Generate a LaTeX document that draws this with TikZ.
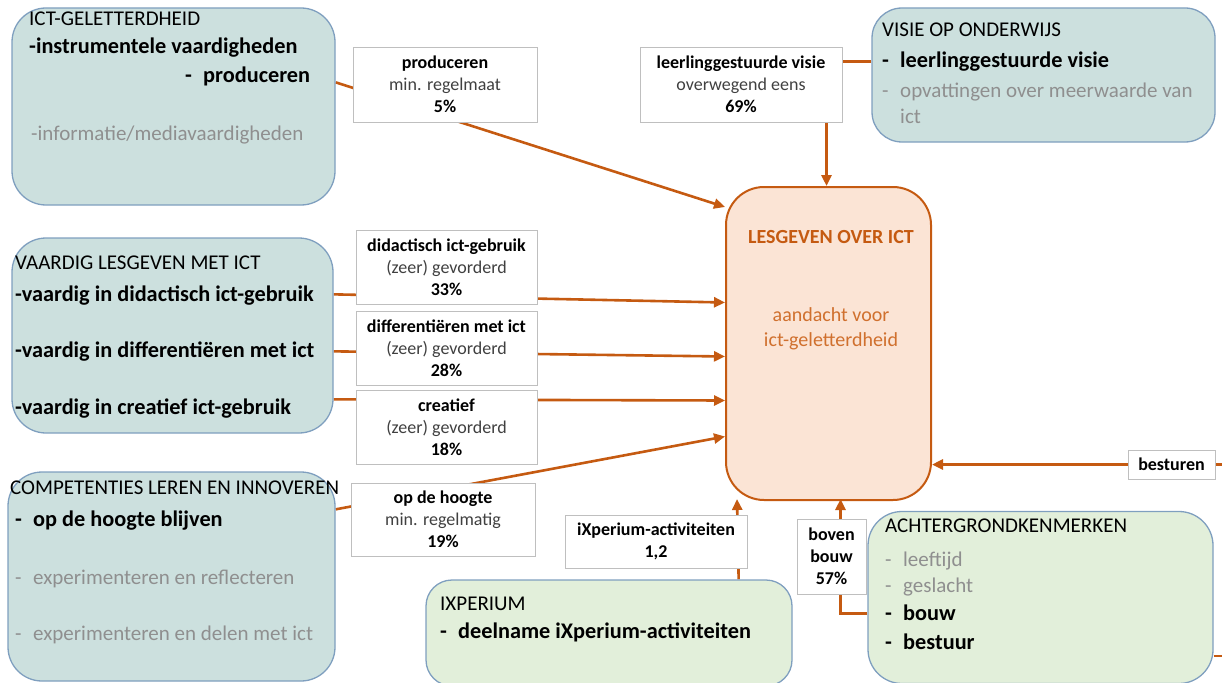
\documentclass[tikz,border=0pt]{standalone}
\usepackage{fontspec}
\setmainfont{Carlito}
\usetikzlibrary{arrows.meta,calc,backgrounds}

\definecolor{boxblue}{HTML}{CCE0DE}
\definecolor{boxgreen}{HTML}{E2EFDA}
\definecolor{boxedge}{HTML}{7F9FBF}
\definecolor{rust}{HTML}{C55A11}
\definecolor{rustlight}{HTML}{D0702E}
\definecolor{peach}{HTML}{FBE4D5}
\definecolor{lblgrey}{HTML}{BFBFBF}
\definecolor{faded}{HTML}{8F8F8F}
\definecolor{sub}{HTML}{404040}

\newcommand{\itemdash}{\makebox[18pt][l]{-}}

\tikzset{
  factor/.style={draw=boxedge, line width=1.3pt, fill=boxblue, rounded corners=34pt, inner sep=0pt},
  context/.style={factor, fill=boxgreen},
  outcome/.style={draw=rust, line width=2pt, fill=peach, rounded corners=38pt, inner sep=0pt},
  lbl/.style={draw=lblgrey, fill=white, line width=0.9pt, align=center, inner sep=0pt,
    font=\fontsize{18}{22}\selectfont},
  head/.style={anchor=base west, inner sep=0pt, font=\fontsize{21}{25}\selectfont},
  key/.style={head, font=\fontsize{22.3}{26}\selectfont\bfseries},
  aside/.style={head, font=\fontsize{21}{25}\selectfont, text=faded},
  conn/.style={draw=rust, line width=2.6pt},
  arr/.style={conn, -{Triangle[length=11pt,width=10pt]}}
}

\begin{document}
\begin{tikzpicture}[x=1pt,y=-1pt]
\useasboundingbox (0,0) rectangle (1222,682);

% factor boxes
\node[factor, minimum width=323pt, minimum height=197pt] (ictgel) at (173.5,106.5) {};
\node[factor, minimum width=343pt, minimum height=134pt, rounded corners=30pt] (visie) at (1043.5,75) {};
\node[factor, minimum width=321pt, minimum height=195pt] (vaardig) at (172.5,335.5) {};
\node[factor, minimum width=327pt, minimum height=209pt] (compet) at (171.5,576.5) {};
\node[context, minimum width=366pt, minimum height=106pt, rounded corners=26pt] (ixper) at (609,633) {};
\node[context, minimum width=345pt, minimum height=172pt] (achter) at (1040.5,597.5) {};
\node[outcome, minimum width=205pt, minimum height=313pt] (lesgeven) at (828.5,343.5) {};

% texts in the boxes
\node[head] (ictgel-t) at (29,26) {ICT-GELETTERDHEID};
\node[key] (ictgel-1) at (29,54) {-instrumentele vaardigheden};
\node[key] (ictgel-2) at (185,83) {\itemdash produceren};
\node[aside] (ictgel-3) at (31,140) {-informatie/mediavaardigheden};

\node[head] (visie-t) at (882,37) {VISIE OP ONDERWIJS};
\node[key] (visie-1) at (882,68) {\itemdash leerlinggestuurde visie};
\node[aside] (visie-2) at (882,98) {\itemdash opvattingen over meerwaarde van};
\node[aside] (visie-3) at (900,124) {ict};

\node[head] (vaardig-t) at (15,269) {VAARDIG LESGEVEN MET ICT};
\node[key] (vaardig-1) at (15,301) {-vaardig in didactisch ict-gebruik};
\node[key] (vaardig-2) at (15,357) {-vaardig in differentiëren met ict};
\node[key] (vaardig-3) at (15,414) {-vaardig in creatief ict-gebruik};

\node[head] (compet-t) at (10,494) {COMPETENTIES LEREN EN INNOVEREN};
\node[key] (compet-1) at (15,526) {\itemdash op de hoogte blijven};
\node[aside] (compet-2) at (15,584) {\itemdash experimenteren en reflecteren};
\node[aside] (compet-3) at (15,640) {\itemdash experimenteren en delen met ict};

\node[head] (ixper-t) at (440,610) {IXPERIUM};
\node[key] (ixper-1) at (440,638) {\itemdash deelname iXperium-activiteiten};

\node[head] (achter-t) at (885,532) {ACHTERGRONDKENMERKEN};
\node[aside] (achter-1) at (885,566) {\itemdash leeftijd};
\node[aside] (achter-2) at (885,592) {\itemdash geslacht};
\node[key] (achter-3) at (885,620) {\itemdash bouw};
\node[key] (achter-4) at (885,649) {\itemdash bestuur};

\node[anchor=base, text=rust, font=\fontsize{20}{24}\selectfont\bfseries] (lesgeven-t) at (831,243) {LESGEVEN OVER ICT};
\node[anchor=base, text=rustlight, align=center, font=\fontsize{20}{25}\selectfont] (lesgeven-1) at (831,346) {aandacht voor\\ict-geletterdheid};

% labels on the connectors
\node[lbl, minimum width=184pt, minimum height=75pt] (prod) at (445,84.5) {\textbf{produceren}\\\textcolor{sub}{min. regelmaat}\\\textbf{5\%}};
\node[lbl, minimum width=202pt, minimum height=75pt] (leerl) at (741,84.5) {\textbf{leerlinggestuurde visie}\\\textcolor{sub}{overwegend eens}\\\textbf{69\%}};
\node[lbl, minimum width=181pt, minimum height=74pt] (didac) at (446.5,267) {\textbf{didactisch ict-gebruik}\\\textcolor{sub}{(zeer) gevorderd}\\\textbf{33\%}};
\node[lbl, minimum width=181pt, minimum height=74pt] (differ) at (446.5,348) {\textbf{differentiëren met ict}\\\textcolor{sub}{(zeer) gevorderd}\\\textbf{28\%}};
\node[lbl, minimum width=181pt, minimum height=74pt] (creat) at (446.5,427) {\textbf{creatief}\\\textcolor{sub}{(zeer) gevorderd}\\\textbf{18\%}};
\node[lbl, minimum width=184pt, minimum height=73pt] (hoogte) at (443,519.5) {\textbf{op de hoogte}\\\textcolor{sub}{min. regelmatig}\\\textbf{19\%}};
\node[lbl, minimum width=182pt, minimum height=53pt] (ixact) at (656,541.5) {\textbf{iXperium-activiteiten}\\\textbf{1,2}};
\node[lbl, minimum width=69pt, minimum height=75pt] (boven) at (831.5,556.5) {\textbf{boven}\\\textbf{bouw}\\\textbf{57\%}};
\node[lbl, minimum width=87pt, minimum height=29pt] (best) at (1171.5,464.5) {\textbf{besturen}};

% connectors run behind the labels
\begin{scope}[on background layer]
\draw[arr] ($(ictgel.north east)+(0,75)$) -- ($(lesgeven.north west)+(0,21)$);
\draw[arr] ($(visie.north west)+(0,54)$) -| ($(lesgeven.north)+(-2,0)$);
\draw[arr] ($(vaardig.north east)+(0,57)$) -- ($(lesgeven.west)+(0,-41)$);
\draw[arr] ($(vaardig.north east)+(0,114)$) -- ($(lesgeven.west)+(0,13)$);
\draw[arr] ($(vaardig.north east)+(0,162)$) -- ($(lesgeven.west)+(0,57)$);
\draw[arr] ($(compet.north east)+(0,38)$) -- ($(lesgeven.west)+(0,93)$);
\draw[arr] ($(ixper.north east)+(-54,0)$) -- ($(lesgeven.south west)+(12,-2)$);
\draw[arr] ($(achter.west)+(0,16)$) -| ($(lesgeven.south)+(12,-2)$);
\draw[arr] ($(achter.south east)+(0,-28)$) -- ++(14,0) |- ($(lesgeven.east)+(0,121)$);
\end{scope}
\end{tikzpicture}
\end{document}
